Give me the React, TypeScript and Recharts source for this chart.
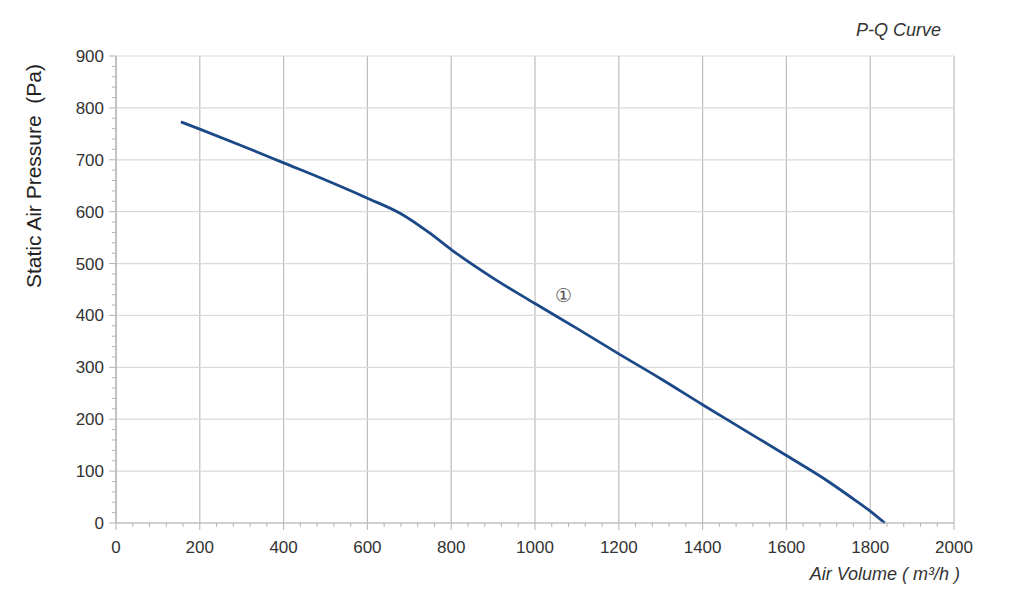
import React from "react"
import {
  LineChart,
  Line,
  XAxis,
  YAxis,
  ReferenceLine,
  ReferenceDot,
} from "recharts"

// air volume (m³/h) vs static pressure (Pa)
const airVolume = [155, 200, 300, 400, 500, 600, 680, 750, 800, 900, 1000, 1100, 1200, 1300, 1400, 1500, 1600, 1700, 1750, 1800, 1835]
const pressure = [773, 759, 727, 694, 661, 626, 596, 558, 527, 472, 423, 375, 326, 278, 228, 179, 130, 80, 52, 23, 0]

const xTicks = [0, 200, 400, 600, 800, 1000, 1200, 1400, 1600, 1800, 2000]
const yTicks = [0, 100, 200, 300, 400, 500, 600, 700, 800, 900]
const xMinorTicks = [0, 40, 80, 120, 160, 200, 240, 280, 320, 360, 400, 440, 480, 520, 560, 600, 640, 680, 720, 760, 800, 840, 880, 920, 960, 1000, 1040, 1080, 1120, 1160, 1200, 1240, 1280, 1320, 1360, 1400, 1440, 1480, 1520, 1560, 1600, 1640, 1680, 1720, 1760, 1800, 1840, 1880, 1920, 1960, 2000]
const yMinorTicks = [0, 20, 40, 60, 80, 100, 120, 140, 160, 180, 200, 220, 240, 260, 280, 300, 320, 340, 360, 380, 400, 420, 440, 460, 480, 500, 520, 540, 560, 580, 600, 620, 640, 660, 680, 700, 720, 740, 760, 780, 800, 820, 840, 860, 880, 900]

const curveLabel = { x: 1067, y: 439, text: "①" }

const data = airVolume.map((q, i) => ({ q, p: pressure[i] }))

const font = '"Liberation Sans", Arial, Helvetica, sans-serif'
const axisGray = "#b4b4b4"

function XTick(props: any) {
  const { x, y, payload } = props
  const major = xTicks.includes(payload.value)
  return (
    <g>
      <line x1={x} x2={x} y1={y} y2={y + (major ? 7 : 4)} stroke={axisGray} />
      {major && (
        <text x={x} y={y + 30} textAnchor="middle" fill="#333" fontSize={17} fontFamily={font}>
          {payload.value}
        </text>
      )}
    </g>
  )
}

function YTick(props: any) {
  const { x, y, payload } = props
  const major = yTicks.includes(payload.value)
  return (
    <g>
      <line x1={x - (major ? 7 : 4)} x2={x} y1={y} y2={y} stroke={axisGray} />
      {major && (
        <text x={x - 12} y={y + 6} textAnchor="end" fill="#333" fontSize={17} fontFamily={font}>
          {payload.value}
        </text>
      )}
    </g>
  )
}

export default function App() {
  return (
    <div style={{ position: "absolute", left: 0, top: 0, width: 1024, height: 606, background: "#fff", fontFamily: font }}>
      <LineChart width={1024} height={606} data={data} margin={{ top: 56, right: 70, bottom: 43, left: 56 }}>
        {xTicks.map((t) => (
          <ReferenceLine key={"vx" + t} x={t} stroke="#bdbdbd" strokeWidth={1.2} />
        ))}
        {yTicks.map((t) => (
          <ReferenceLine key={"hy" + t} y={t} stroke="#dadada" strokeWidth={1.2} />
        ))}
        <XAxis
          dataKey="q"
          type="number"
          domain={[0, 2000]}
          ticks={xMinorTicks}
          interval={0}
          tick={<XTick />}
          tickSize={0}
          tickMargin={0}
          tickLine={false}
          axisLine={{ stroke: axisGray, strokeWidth: 1.2 }}
          height={40}
        />
        <YAxis
          type="number"
          domain={[0, 900]}
          ticks={yMinorTicks}
          interval={0}
          tick={<YTick />}
          tickSize={0}
          tickMargin={0}
          tickLine={false}
          axisLine={{ stroke: axisGray, strokeWidth: 1.2 }}
          width={60}
        />
        <Line
          type="monotone"
          dataKey="p"
          stroke="#1b4987"
          strokeWidth={2.8}
          dot={false}
          isAnimationActive={false}
        />
        <ReferenceDot
          x={curveLabel.x}
          y={curveLabel.y}
          r={0}
          fill="none"
          stroke="none"
          label={{ value: curveLabel.text, position: "center", fill: "#555", fontSize: 19 }}
        />
      </LineChart>
      <div
        style={{
          position: "absolute",
          left: 34,
          top: 176,
          transform: "translate(-50%, -50%) rotate(-90deg)",
          whiteSpace: "nowrap",
          fontSize: 21,
          color: "#222",
        }}
      >
        Static Air Pressure&nbsp;&nbsp;(Pa)
      </div>
      <div style={{ position: "absolute", right: 64, top: 564, fontSize: 18, fontStyle: "italic", color: "#333", whiteSpace: "nowrap" }}>
        Air Volume ( m³/h )
      </div>
      <div style={{ position: "absolute", right: 83, top: 20, fontSize: 18, fontStyle: "italic", color: "#333", whiteSpace: "nowrap" }}>
        P-Q Curve
      </div>
    </div>
  )
}
